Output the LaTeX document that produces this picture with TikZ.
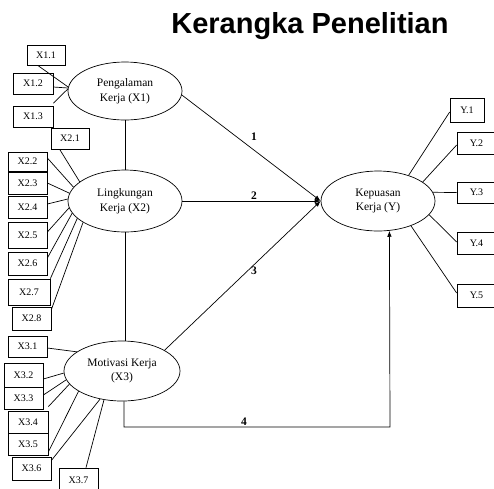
\documentclass[tikz,border=0pt]{standalone}
\usepackage{fontspec}
\setmainfont{Liberation Serif}
\newfontfamily\titlefont{Liberation Sans}
\usetikzlibrary{arrows.meta,shapes.geometric}
\begin{document}
\begin{tikzpicture}[x=1pt,y=-1pt,
  lat/.style={draw, ellipse, line width=0.7pt, inner sep=0pt, align=center,
    font=\fontsize{11.5}{14.5}\selectfont},
  ind/.style={draw, line width=0.7pt, inner sep=0pt, minimum width=39pt,
    font=\fontsize{10}{12}\selectfont},
  conn/.style={line width=0.7pt},
  path/.style={line width=0.7pt, -{Latex[length=6pt,width=4.5pt]}},
  num/.style={font=\fontsize{11.5}{13}\selectfont\bfseries, inner sep=0pt}]
\useasboundingbox (0,0) rectangle (494,488);
\clip (0,0) rectangle (494,488);

\node[font=\titlefont\fontsize{29}{34}\selectfont\bfseries] (title) at (310,26) {Kerangka Penelitian};

% latent variables
\node[lat, minimum width=114pt, minimum height=58pt] (P) at (125,91) {Pengalaman\\Kerja (X1)};
\node[lat, minimum width=114pt, minimum height=62pt] (L) at (125,201) {Lingkungan\\Kerja (X2)};
\node[lat, minimum width=116pt, minimum height=60pt] (M) at (122,371) {Motivasi Kerja\\(X3)};
\node[lat, minimum width=114pt, minimum height=60pt] (K) at (378,201) {Kepuasan\\Kerja (Y)};

% indicators X1
\node[ind, minimum width=38pt, minimum height=20pt] (x11) at (46,55) {X1.1};
\node[ind, minimum width=40pt, minimum height=21pt] (x12) at (33,83.5) {X1.2};
\node[ind, minimum width=40pt, minimum height=21pt] (x13) at (33,116.5) {X1.3};
% indicators X2
\node[ind, minimum width=38pt, minimum height=21pt] (x21) at (70,138.5) {X2.1};
\node[ind, minimum height=19pt] (x22) at (27.5,161.5) {X2.2};
\node[ind, minimum height=22pt] (x23) at (27.5,183) {X2.3};
\node[ind, minimum height=22pt] (x24) at (27.5,207) {X2.4};
\node[ind, minimum height=26pt] (x25) at (27.5,235) {X2.5};
\node[ind, minimum height=23pt] (x26) at (27.5,263.5) {X2.6};
\node[ind, minimum width=42pt, minimum height=26pt] (x27) at (29,292) {X2.7};
\node[ind, minimum height=23pt] (x28) at (31.5,318.5) {X2.8};
% indicators X3
\node[ind, minimum height=21pt] (x31) at (27.5,346.5) {X3.1};
\node[ind, minimum height=24pt] (x32) at (23.5,375) {X3.2};
\node[ind, minimum height=22pt] (x33) at (23.5,398) {X3.3};
\node[ind, minimum width=40pt, minimum height=22pt] (x34) at (28,422) {X3.4};
\node[ind, minimum width=40pt, minimum height=22pt] (x35) at (28,444) {X3.5};
\node[ind, minimum height=23pt] (x36) at (31.5,468.5) {X3.6};
\node[ind, minimum height=24pt] (x37) at (78.5,480) {X3.7};
% indicators Y
\node[ind, minimum width=34pt, minimum height=24pt] (y1) at (467,110) {Y.1};
\node[ind, minimum height=22pt] (y2) at (476.5,143) {Y.2};
\node[ind, minimum height=21pt] (y3) at (476.5,192.5) {Y.3};
\node[ind, minimum height=22pt] (y4) at (476.5,243) {Y.4};
\node[ind, minimum height=23pt] (y5) at (476.5,295.5) {Y.5};

% indicator connectors
\draw[conn] ([xshift=11pt]x11.south west) -- (P.176);
\draw[conn] ([yshift=-3.5pt]x12.east) -- (P.177);
\draw[conn] ([yshift=2.5pt]x13.north east) -- (P.178);

\draw[conn] ([xshift=9pt]x21.south west) -- (L.157);
\draw[conn] ([yshift=3.5pt]x22.east) -- (L.165);
\draw[conn] (x23.east) -- (L.172);
\draw[conn] ([yshift=3pt]x24.east) -- (L.178);
\draw[conn] ([yshift=3pt]x25.east) -- (L.187.5);
\draw[conn] ([yshift=5.5pt]x26.east) -- (L.193.5);
\draw[conn] (x27.north east) -- (L.200);
\draw[conn] ([yshift=-3pt]x28.north east) -- (L.207);

\draw[conn] ([yshift=-1.5pt]x31.east) -- (M.157);
\draw[conn] ([yshift=-4pt]x32.east) -- (M.182);
\draw[conn] ([yshift=3pt]x33.east) -- (M.189);
\draw[conn] ([yshift=4pt]x34.north east) -- (M.194.5);
\draw[conn] ([yshift=-8pt]x35.east) -- (M.205);
\draw[conn] ([yshift=8pt]x36.east) -- (M.232);
\draw[conn] ([xshift=7.5pt]x37.north) -- (M.238.5);

\draw[conn] ([yshift=-2pt]y1.west) -- (K.40);
\draw[conn] ([yshift=-2pt]y2.west) -- (K.23);
\draw[conn] (y3.west) -- (K.9.5);
\draw[conn] ([yshift=1pt]y4.west) -- (K.345);
\draw[conn] ([yshift=2.5pt]y5.west) -- (K.323);

% correlations between exogenous variables
\draw[conn] (P.south) -- (L.north);
\draw[conn] (L.south) -- (L.south |- M.north);

% structural paths
\draw[path] (P.356) -- (K.west);
\node[num] (n1) at (254,137) {1};
\draw[path] (L.east) -- (K.west);
\node[num] (n2) at (254,196) {2};
\draw[path] (M.26) -- (K.west);
\node[num] (n3) at (254,271) {3};
\coordinate (c4a) at (124,427);
\coordinate (c4b) at (390,427);
\draw[path] (c4a |- M.south) -- (c4a) -- (c4b) -- (K.291);
\node[num] (n4) at (244,422) {4};
\end{tikzpicture}
\end{document}
